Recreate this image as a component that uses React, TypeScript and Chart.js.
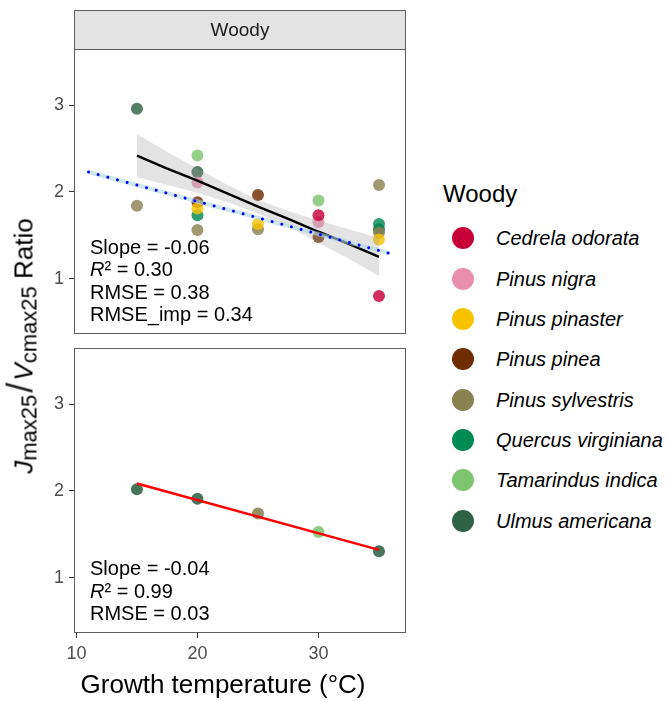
import React, { useEffect, useRef } from "react";
import { Chart, registerables } from "chart.js";

Chart.register(...registerables);

const FONT = '"Liberation Sans", Arial, Helvetica, sans-serif';

// ---- data ----
const species = [
  "Cedrela odorata",
  "Pinus nigra",
  "Pinus pinaster",
  "Pinus pinea",
  "Pinus sylvestris",
  "Quercus virginiana",
  "Tamarindus indica",
  "Ulmus americana",
];
const speciesColors = [
  "#C70039",
  "#E78FAD",
  "#F5C300",
  "#6E2C00",
  "#8A8150",
  "#008B55",
  "#7FC46F",
  "#2E6244",
];

const topX: number[][] = [
  [30, 35],
  [20, 30],
  [20, 25, 35],
  [20, 25, 30],
  [15, 20, 25, 35, 35],
  [20, 35],
  [20, 30],
  [15, 20, 35],
];
const topY: number[][] = [
  [1.73, 0.8],
  [2.11, 1.65],
  [1.81, 1.63, 1.45],
  [1.88, 1.965, 1.48],
  [1.84, 1.56, 1.57, 2.08, 1.53],
  [1.73, 1.63],
  [2.42, 1.9],
  [2.96, 2.23, 1.57],
];

const bottomX = [15, 20, 25, 30, 35];
const bottomY = [2.02, 1.91, 1.74, 1.525, 1.305];
const bottomSpecies = [7, 7, 4, 6, 7];

const fitX = [15, 17.5, 20, 22.5, 25, 27.5, 30, 32.5, 35];
const fitY = [2.42, 2.27, 2.13, 1.98, 1.83, 1.69, 1.54, 1.4, 1.25];
const fitUpper = [2.67, 2.46, 2.27, 2.08, 1.91, 1.78, 1.67, 1.57, 1.47];
const fitLower = [2.17, 2.08, 1.99, 1.88, 1.75, 1.6, 1.41, 1.23, 1.03];

const impX = [11, 35.9];
const impY = [2.23, 1.29];
const impUpper = [2.255, 1.315];
const impLower = [2.205, 1.265];

const redX = [15, 35];
const redY = [2.085, 1.32];

const xTicks = [10, 20, 30];
const yTicks = [1, 2, 3];

const stripLabel = "Woody";
const legendTitle = "Woody";
const topStats = ["Slope = -0.06", "R² = 0.30", "RMSE = 0.38", "RMSE_imp = 0.34"];
const bottomStats = ["Slope = -0.04", "R² = 0.99", "RMSE = 0.03"];

const X_MIN = 9.8;
const X_MAX = 37.23;
const Y_MIN = 0.36;
const Y_MAX = 3.65;

function rgba(hex: string, a: number) {
  const n = parseInt(hex.slice(1), 16);
  return `rgba(${(n >> 16) & 255},${(n >> 8) & 255},${n & 255},${a})`;
}

function pts(xs: number[], ys: number[]) {
  return xs.map((x, i) => ({ x, y: ys[i] }));
}

function panelPlugin(stats: string[], strip: string | null) {
  return {
    id: "panel" + (strip ? "Top" : "Bottom"),
    afterDatasetsDraw(chart: any) {
      const { ctx, chartArea: a } = chart;
      ctx.save();
      ctx.fillStyle = "#000";
      ctx.textBaseline = "alphabetic";
      ctx.textAlign = "left";
      const n = stats.length;
      stats.forEach((s, i) => {
        const y = a.bottom - 13 - (n - 1 - i) * 22.3;
        const x = a.left + 16;
        if (s.startsWith("R²")) {
          ctx.font = `italic 20px ${FONT}`;
          ctx.fillText("R", x, y);
          const w = ctx.measureText("R").width;
          ctx.font = `20px ${FONT}`;
          ctx.fillText(s.slice(1), x + w, y);
        } else {
          ctx.font = `20px ${FONT}`;
          ctx.fillText(s, x, y);
        }
      });
      ctx.strokeStyle = "#5e5e5e";
      ctx.lineWidth = 1;
      ctx.strokeRect(a.left + 0.5, a.top + 0.5, a.right - a.left - 1, a.bottom - a.top - 1);
      if (strip) {
        const top = 10;
        ctx.fillStyle = "#e3e3e3";
        ctx.fillRect(a.left, top, a.right - a.left, a.top - top);
        ctx.strokeRect(a.left + 0.5, top + 0.5, a.right - a.left - 1, a.top - top);
        ctx.fillStyle = "#1a1a1a";
        ctx.font = `19px ${FONT}`;
        ctx.textAlign = "center";
        ctx.textBaseline = "middle";
        ctx.fillText(strip, (a.left + a.right) / 2, (top + a.top) / 2 + 1);
      }
      ctx.restore();
    },
  };
}

function zeroPad(s: any) {
  s.paddingTop = 0;
  s.paddingBottom = 0;
  s.paddingLeft = 0;
  s.paddingRight = 0;
}

function yScale() {
  return {
    type: "linear",
    min: Y_MIN,
    max: Y_MAX,
    afterFit: (s: any) => {
      s.width = 74;
      zeroPad(s);
    },
    afterBuildTicks: (s: any) => {
      s.ticks = yTicks.map((v) => ({ value: v }));
    },
    grid: { drawOnChartArea: false, drawTicks: true, tickLength: 5, color: "#333" },
    border: { display: false },
    ticks: { color: "#4d4d4d", font: { size: 18, family: FONT }, padding: 5 },
  };
}

export default function App() {
  const topRef = useRef<HTMLCanvasElement>(null);
  const botRef = useRef<HTMLCanvasElement>(null);

  useEffect(() => {
    document.body.style.margin = "0";
    const pointSets = species.map((name, i) => ({
      label: name,
      data: pts(topX[i], topY[i]),
      showLine: false,
      pointRadius: 6,
      pointBorderWidth: 0,
      pointBackgroundColor: rgba(speciesColors[i], 0.82),
      order: 10,
    }));
    const top = new Chart(topRef.current!, {
      type: "line",
      data: {
        datasets: [
          ...pointSets,
          {
            label: "ribbonUpper",
            data: pts(fitX, fitUpper),
            borderWidth: 0,
            pointRadius: 0,
            fill: "+1",
            backgroundColor: "rgba(153,153,153,0.27)",
            order: 5,
          },
          {
            label: "ribbonLower",
            data: pts(fitX, fitLower),
            borderWidth: 0,
            pointRadius: 0,
            fill: false,
            order: 5,
          },
          {
            label: "fit",
            data: pts(fitX, fitY),
            borderColor: "#000",
            borderWidth: 2.5,
            pointRadius: 0,
            fill: false,
            order: 4,
          },
          {
            label: "impUpper",
            data: pts(impX, impUpper),
            borderWidth: 0,
            pointRadius: 0,
            fill: "+1",
            backgroundColor: "rgba(173,216,230,0.6)",
            order: 3,
          },
          {
            label: "impLower",
            data: pts(impX, impLower),
            borderWidth: 0,
            pointRadius: 0,
            fill: false,
            order: 3,
          },
          {
            label: "imp",
            data: pts(impX, impY),
            borderColor: "#0000ff",
            borderWidth: 3,
            borderDash: [0.01, 10],
            borderCapStyle: "round",
            pointRadius: 0,
            fill: false,
            order: 2,
          },
        ] as any,
      },
      options: {
        animation: false,
        responsive: false,
        maintainAspectRatio: false,
        layout: { padding: { top: 49, right: 14, bottom: 6, left: 0 } },
        plugins: { legend: { display: false }, tooltip: { enabled: false } },
        scales: {
          x: { type: "linear", min: X_MIN, max: X_MAX, display: false },
          y: yScale() as any,
        },
      },
      plugins: [panelPlugin(topStats, stripLabel)],
    });

    const bottom = new Chart(botRef.current!, {
      type: "line",
      data: {
        datasets: [
          {
            label: "points",
            data: pts(bottomX, bottomY),
            showLine: false,
            pointRadius: 6,
            pointBorderWidth: 0,
            pointBackgroundColor: bottomSpecies.map((s) => rgba(speciesColors[s], 0.88)),
            order: 10,
          },
          {
            label: "fit",
            data: pts(redX, redY),
            borderColor: "#ff0000",
            borderWidth: 2.5,
            pointRadius: 0,
            fill: false,
            order: 2,
          },
        ] as any,
      },
      options: {
        animation: false,
        responsive: false,
        maintainAspectRatio: false,
        layout: { padding: { top: 8, right: 14, bottom: 38, left: 0 } },
        plugins: { legend: { display: false }, tooltip: { enabled: false } },
        scales: {
          x: {
            type: "linear",
            min: X_MIN,
            max: X_MAX,
            afterFit: (s: any) => {
              s.height = 30;
              zeroPad(s);
            },
            afterBuildTicks: (s: any) => {
              s.ticks = xTicks.map((v) => ({ value: v }));
            },
            grid: { drawOnChartArea: false, drawTicks: true, tickLength: 5, color: "#333" },
            border: { display: false },
            ticks: { color: "#4d4d4d", font: { size: 18, family: FONT }, padding: 5, maxRotation: 0 },
          } as any,
          y: yScale() as any,
        },
      },
      plugins: [panelPlugin(bottomStats, null)],
    });

    return () => {
      top.destroy();
      bottom.destroy();
    };
  }, []);

  return (
    <div
      style={{
        position: "absolute",
        left: 0,
        top: 0,
        width: 667,
        height: 701,
        background: "#fff",
        fontFamily: FONT,
        overflow: "hidden",
      }}
    >
      <canvas ref={topRef} width={420} height={340} style={{ position: "absolute", left: 0, top: 0 }} />
      <canvas ref={botRef} width={420} height={361} style={{ position: "absolute", left: 0, top: 340 }} />
      <div
        style={{
          position: "absolute",
          left: 23,
          top: 346,
          transform: "translate(-50%, -50%) rotate(-90deg)",
          whiteSpace: "nowrap",
          fontSize: 26,
          color: "#000",
          lineHeight: "30px",
        }}
      >
        <i>J</i>
        <span style={{ fontSize: 22, position: "relative", top: 4 }}>max25</span>
        <span style={{ fontSize: 36, fontWeight: 300, margin: "0 2px", color: "#222" }}>/</span>
        <i>V</i>
        <span style={{ fontSize: 22, position: "relative", top: 4 }}>cmax25</span>
        <span> Ratio</span>
      </div>
      <div
        style={{
          position: "absolute",
          left: 223,
          top: 684,
          transform: "translate(-50%, -50%)",
          whiteSpace: "nowrap",
          fontSize: 26,
          color: "#000",
        }}
      >
        Growth temperature (°C)
      </div>
      <div
        style={{
          position: "absolute",
          left: 443,
          top: 194,
          transform: "translateY(-50%)",
          fontSize: 24,
          color: "#000",
          whiteSpace: "nowrap",
        }}
      >
        {legendTitle}
      </div>
      {species.map((name, i) => (
        <React.Fragment key={name}>
          <div
            style={{
              position: "absolute",
              left: 463.3 - 11,
              top: 238.3 + i * 40.33 - 11,
              width: 22,
              height: 22,
              borderRadius: "50%",
              background: speciesColors[i],
            }}
          />
          <div
            style={{
              position: "absolute",
              left: 496,
              top: 238.3 + i * 40.33,
              transform: "translateY(-50%)",
              fontSize: 20,
              fontStyle: "italic",
              whiteSpace: "nowrap",
              color: "#000",
            }}
          >
            {name}
          </div>
        </React.Fragment>
      ))}
    </div>
  );
}
